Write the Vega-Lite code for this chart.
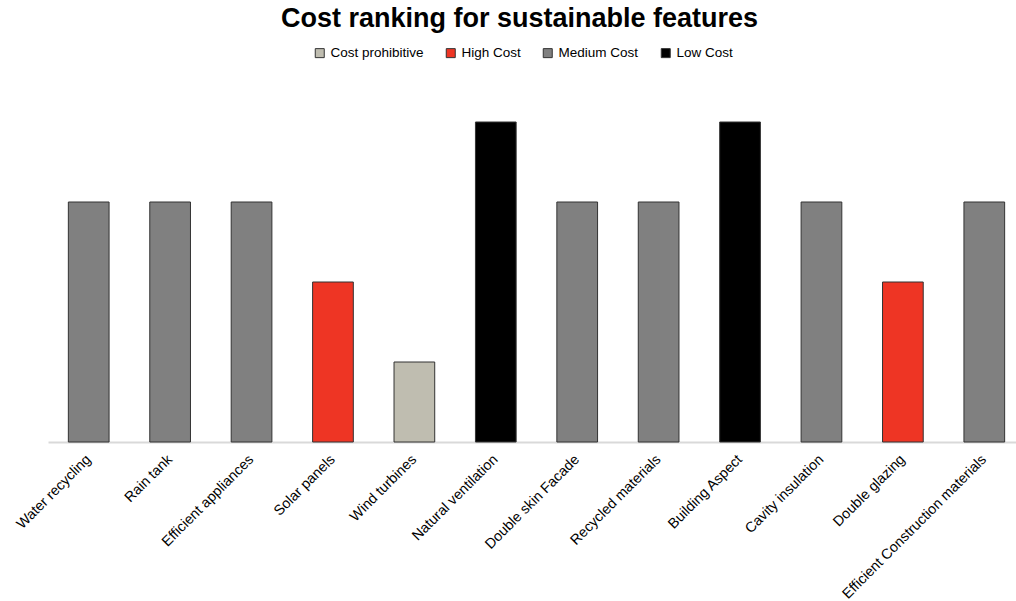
{
  "$schema": "https://vega.github.io/schema/vega-lite/v6.json",
  "autosize": {"type": "none"},
  "width": 967,
  "height": 320,
  "padding": {"left": 48, "top": 122, "right": 1, "bottom": 159},
  "background": "white",
  "config": {
    "font": "Liberation Sans",
    "view": {"stroke": null}
  },
  "title": {
    "text": "Cost ranking for sustainable features",
    "fontSize": 27,
    "fontWeight": "bold",
    "color": "black",
    "font": "Liberation Sans",
    "anchor": "middle",
    "frame": "group",
    "baseline": "alphabetic",
    "offset": 16,
    "dy": 24,
    "dx": -12
  },
  "data": {
    "values": [
      {"feature": "Water recycling", "rank": 3, "cost": "Medium Cost"},
      {"feature": "Rain tank", "rank": 3, "cost": "Medium Cost"},
      {"feature": "Efficient appliances", "rank": 3, "cost": "Medium Cost"},
      {"feature": "Solar panels", "rank": 2, "cost": "High Cost"},
      {"feature": "Wind turbines", "rank": 1, "cost": "Cost prohibitive"},
      {"feature": "Natural ventilation", "rank": 4, "cost": "Low Cost"},
      {"feature": "Double skin Facade", "rank": 3, "cost": "Medium Cost"},
      {"feature": "Recycled materials", "rank": 3, "cost": "Medium Cost"},
      {"feature": "Building Aspect", "rank": 4, "cost": "Low Cost"},
      {"feature": "Cavity insulation", "rank": 3, "cost": "Medium Cost"},
      {"feature": "Double glazing", "rank": 2, "cost": "High Cost"},
      {"feature": "Efficient Construction materials", "rank": 3, "cost": "Medium Cost"}
    ]
  },
  "mark": {"type": "bar", "stroke": "#333333", "strokeWidth": 1},
  "encoding": {
    "x": {
      "field": "feature",
      "type": "nominal",
      "sort": null,
      "scale": {"range": [0, 977], "paddingInner": 0.5, "paddingOuter": 0.25},
      "axis": {
        "title": null,
        "labelAngle": -45,
        "labelAlign": "right",
        "labelBaseline": "middle",
        "labelFontSize": 14.3,
        "labelColor": "black",
        "labelFont": "Liberation Sans",
        "labelPadding": 15,
        "ticks": false,
        "domainColor": "#d9d9d9",
        "domainWidth": 2,
        "labelLimit": 400
      }
    },
    "y": {
      "field": "rank",
      "type": "quantitative",
      "scale": {"domain": [0, 4]},
      "axis": null
    },
    "color": {
      "field": "cost",
      "type": "nominal",
      "scale": {
        "domain": ["Cost prohibitive", "High Cost", "Medium Cost", "Low Cost"],
        "range": ["#bfbdb0", "#ee3524", "#808080", "#000000"]
      },
      "legend": {
        "title": null,
        "orient": "none",
        "direction": "horizontal",
        "legendX": 265,
        "legendY": -76,
        "symbolType": "square",
        "symbolSize": 81,
        "symbolStrokeColor": "#333333",
        "symbolStrokeWidth": 1,
        "symbolOpacity": 1,
        "labelFontSize": 13.5,
        "labelColor": "black",
        "labelFont": "Liberation Sans",
        "labelOffset": 4,
        "columnPadding": 20
      }
    }
  }
}
